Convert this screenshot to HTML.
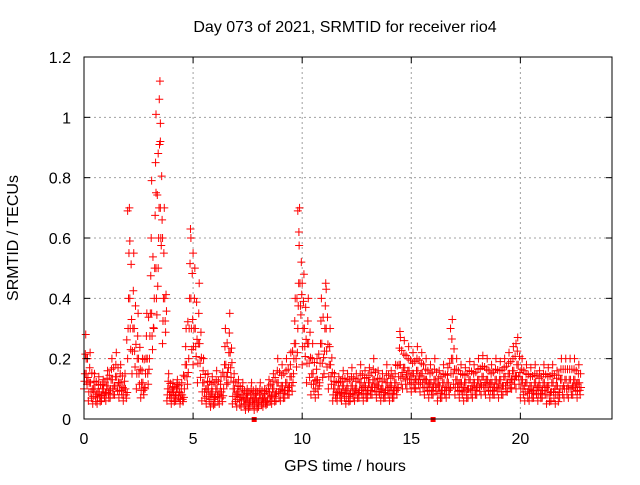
<!DOCTYPE html>
<html><head><meta charset="utf-8"><style>
body{margin:0;background:#fff;}
svg text{font-family:"Liberation Sans",sans-serif;font-size:16px;fill:#000;}
</style></head><body>
<svg id="chart" width="640" height="480" xmlns="http://www.w3.org/2000/svg">
<rect width="640" height="480" fill="#fff"/>
<text x="345" y="32" text-anchor="middle">Day 073 of 2021, SRMTID for receiver rio4</text>
<text x="345" y="471" text-anchor="middle">GPS time / hours</text>
<text transform="translate(18,238) rotate(-90)" text-anchor="middle">SRMTID / TECUs</text>
<g id="grid"></g><g id="marks"></g><g id="axes"></g>
</svg>
<script>
const xTicks=[0,5,10,15,20];
const yTicks=[0,0.2,0.4,0.6,0.8,1,1.2];
const yTickLabels=["0","0.2","0.4","0.6","0.8","1","1.2"];
const binStart=0, binStep=0.2;
const highVals=[0.28,0.22,0.15,0.14,0.13,0.16,0.2,0.22,0.18,0.15,0.7,0.55,0.35,0.2,0.35,0.6,0.85,1.12,0.7,0.15,0.12,0.13,0.12,0.3,0.63,0.5,0.45,0.2,0.15,0.14,0.16,0.14,0.3,0.35,0.15,0.13,0.12,0.1,0.12,0.1,0.12,0.1,0.13,0.15,0.2,0.18,0.2,0.22,0.4,0.7,0.48,0.4,0.25,0.2,0.4,0.45,0.3,0.15,0.14,0.16,0.15,0.17,0.15,0.18,0.16,0.17,0.2,0.16,0.15,0.18,0.16,0.18,0.29,0.26,0.24,0.22,0.24,0.22,0.2,0.18,0.2,0.16,0.18,0.17,0.33,0.2,0.18,0.17,0.19,0.18,0.2,0.21,0.2,0.18,0.2,0.19,0.2,0.22,0.24,0.27,0.2,0.18,0.17,0.18,0.16,0.18,0.17,0.18,0.16,0.2,0.2,0.2,0.2,0.18];
const midVals=[0.15,0.12,0.1,0.09,0.1,0.11,0.13,0.14,0.12,0.1,0.4,0.3,0.2,0.12,0.2,0.35,0.5,0.7,0.4,0.1,0.09,0.1,0.08,0.18,0.4,0.3,0.25,0.12,0.1,0.09,0.1,0.09,0.18,0.22,0.1,0.09,0.08,0.07,0.08,0.07,0.08,0.07,0.09,0.1,0.12,0.11,0.12,0.14,0.25,0.45,0.3,0.25,0.15,0.13,0.25,0.3,0.18,0.1,0.1,0.11,0.1,0.11,0.1,0.12,0.11,0.12,0.13,0.11,0.1,0.12,0.11,0.12,0.18,0.17,0.16,0.15,0.16,0.15,0.13,0.12,0.13,0.11,0.12,0.12,0.2,0.13,0.12,0.12,0.13,0.12,0.13,0.14,0.13,0.12,0.13,0.13,0.14,0.15,0.16,0.18,0.13,0.12,0.11,0.12,0.11,0.12,0.11,0.12,0.11,0.13,0.13,0.13,0.13,0.12];
const lowVals=[0.1,0.06,0.05,0.05,0.06,0.06,0.07,0.08,0.07,0.06,0.2,0.15,0.1,0.07,0.1,0.2,0.3,0.5,0.25,0.06,0.05,0.06,0.05,0.1,0.2,0.18,0.12,0.06,0.05,0.04,0.05,0.05,0.1,0.12,0.05,0.04,0.04,0.03,0.04,0.03,0.04,0.04,0.05,0.05,0.06,0.06,0.07,0.08,0.15,0.3,0.18,0.12,0.08,0.07,0.12,0.15,0.1,0.06,0.06,0.06,0.05,0.06,0.06,0.07,0.06,0.07,0.08,0.07,0.06,0.07,0.06,0.07,0.1,0.1,0.1,0.09,0.1,0.09,0.08,0.07,0.08,0.06,0.07,0.07,0.1,0.08,0.07,0.06,0.07,0.07,0.08,0.08,0.08,0.07,0.08,0.07,0.08,0.09,0.1,0.1,0.07,0.06,0.06,0.07,0.06,0.07,0.05,0.06,0.05,0.07,0.07,0.07,0.08,0.07];
const peakTimes=[2.0,2.1,3.1,3.3,3.4,3.45,3.5,3.3,4.9,5.0,9.8,9.85,10.0,11.1,14.5,16.8,19.8,0.1,3.6,3.5];
const peakVals=[0.69,0.59,0.79,1.01,0.88,1.06,0.92,0.75,0.6,0.55,0.69,0.62,0.45,0.43,0.27,0.3,0.25,0.2,0.6,0.98];
const flagTimes=[7.8,16.0];
const X0=84,X1=612,Y0=419,Y1=57,XMAX=24.2,YMAX=1.2;
const xs=v=>X0+v/XMAX*(X1-X0);
const ys=v=>Y0-v/YMAX*(Y0-Y1);
const NS="http://www.w3.org/2000/svg";
function mk(tag,attrs,parent){const e=document.createElementNS(NS,tag);for(const k in attrs)e.setAttribute(k,attrs[k]);parent.appendChild(e);return e;}
const grid=document.getElementById('grid'),axes=document.getElementById('axes'),marks=document.getElementById('marks');
xTicks.forEach((t,i)=>{
 const x=xs(t);
 if(t>0){const g=mk('line',{x1:x,x2:x,y1:Y1,y2:Y0,stroke:'#a0a0a0','stroke-dasharray':'2,3'},grid);
 
 }
 const tl=mk('text',{x:x,y:Y0+25,'text-anchor':'middle'},axes);tl.textContent=String(t);
 
 
 mk('line',{x1:x,x2:x,y1:Y0,y2:Y0-6,stroke:'#000'},axes);
 mk('line',{x1:x,x2:x,y1:Y1,y2:Y1+6,stroke:'#000'},axes);
});
yTicks.forEach((t,i)=>{
 const y=ys(t);
 if(t>0&&t<YMAX){const g=mk('line',{x1:X0,x2:X1,y1:y,y2:y,stroke:'#a0a0a0','stroke-dasharray':'2,3'},grid);
 
 }
 const tl=mk('text',{x:X0-13,y:y+6,'text-anchor':'end'},axes);tl.textContent=yTickLabels[i];
 
 
 mk('line',{x1:X0,x2:X0+6,y1:y,y2:y,stroke:'#000'},axes);
 mk('line',{x1:X1,x2:X1-6,y1:y,y2:y,stroke:'#000'},axes);
});
const box=mk('rect',{x:X0,y:Y1,width:X1-X0,height:Y0-Y1,fill:'none',stroke:'#000'},axes);


let d='';
function plus(t,v){const x=xs(t),y=ys(v);d+=`M${x-4} ${y}h8M${x} ${y-4}v8`;}
highVals.forEach((h,i)=>{
 const t=binStart+i*binStep, m=midVals[i], l=lowVals[i];
 const n=(i<highVals.length-1)?(highVals[i+1]+h)/2:h;
 const seq=[l,(l+m)/2,m,(m+h)/2,h,m,(l+m)/2,l*1.15,(m+n)/2,(l+m)/2*1.1];
 seq.forEach((v,k)=>plus(t+k*binStep/seq.length,v));
});
peakTimes.forEach((t,i)=>plus(t,peakVals[i]));
const p=mk('path',{d:d,stroke:'#ff0000','stroke-width':1,fill:'none'},marks);


flagTimes.forEach(t=>{
 const r=mk('rect',{x:xs(t)-2.5,y:Y0-2,width:5,height:5,fill:'#ff0000'},marks);
 
 
});
</script>
</body></html>
